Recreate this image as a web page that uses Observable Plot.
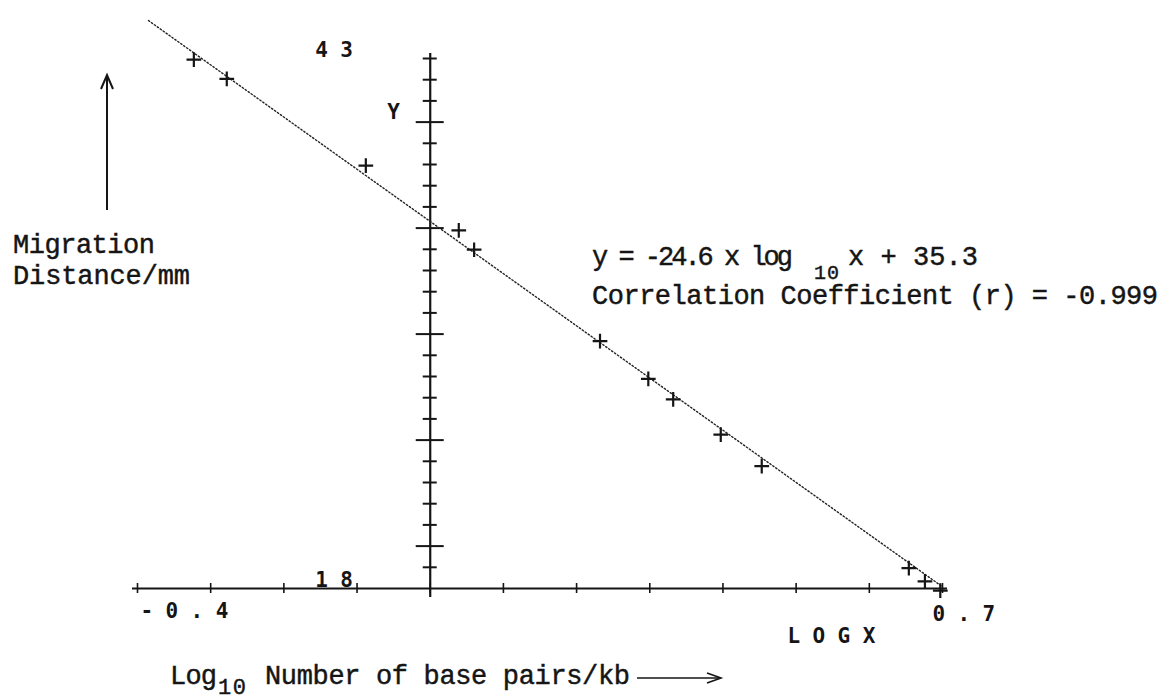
<!DOCTYPE html>
<html>
<head>
<meta charset="utf-8">
<script src="https://cdn.jsdelivr.net/npm/d3@7"></script>
<script src="https://cdn.jsdelivr.net/npm/@observablehq/plot@0.6"></script>
<style>
  html, body { margin: 0; padding: 0; background: #fff; }
  #chart { width: 1171px; height: 700px; }
</style>
</head>
<body>
<div id="chart"></div>
<script>
// ---- data ----
const logKb = [-0.323, -0.278, -0.088, 0.039, 0.060, 0.232, 0.298, 0.332, 0.397, 0.453, 0.654, 0.676, 0.697];
const migrationMm = [42.95, 42.04, 37.95, 34.89, 33.98, 29.67, 27.89, 26.92, 25.26, 23.77, 18.96, 18.34, 17.90];

// regression line end points (y = -24.6 log10 x + 35.3)
const fitLogKb = [-0.385, 0.7];
const fitMm = [44.79, 18.08];

// axis ticks
const xTicks = [-0.4, -0.3, -0.2, -0.1, 0, 0.1, 0.2, 0.3, 0.4, 0.5, 0.6, 0.7];
const yMinorTicks = [19, 21, 22, 23, 24, 26, 27, 28, 29, 31, 32, 33, 34, 36, 37, 38, 39, 41, 42, 43];
const yMajorTicks = [20, 25, 30, 35, 40];

// tick labels
const yLabelValues = [43, 18];
const yLabelTexts = ["43", "18"];
const xLabelLeftValue = [-0.4];
const xLabelLeftText = ["-0.4"];
const xLabelRightValue = [0.7];
const xLabelRightText = ["0.7"];

const points = logKb.map((x, i) => ({x, y: migrationMm[i]}));
const fit = fitLogKb.map((x, i) => ({x, y: fitMm[i]}));
const ink = "#151515";
const dotFont = "DejaVu Sans Mono";

const chart = Plot.plot({
  width: 1171,
  height: 700,
  margin: 0,
  x: {domain: [-0.4, 0.7], range: [137, 942], axis: null},
  y: {domain: [18, 43], range: [588, 58], axis: null},
  marks: [
    // axes
    Plot.ruleY([18], {x1: -0.4, x2: 0.7, insetLeft: -5, insetRight: -5, stroke: ink, strokeWidth: 2}),
    Plot.ruleX([0], {y1: 43, y2: 18, insetTop: -5, insetBottom: -9, stroke: ink, strokeWidth: 2.2}),
    Plot.ruleX(xTicks, {x: d => d, y1: 18, y2: 18, insetTop: -5, insetBottom: -5, stroke: ink, strokeWidth: 1.6}),
    Plot.ruleY(yMinorTicks, {y: d => d, x1: 0, x2: 0, insetLeft: -7, insetRight: -7, stroke: ink, strokeWidth: 2}),
    Plot.ruleY(yMajorTicks, {y: d => d, x1: 0, x2: 0, insetLeft: -14, insetRight: -14, stroke: ink, strokeWidth: 2}),
    // fitted line
    Plot.line(fit, {x: "x", y: "y", stroke: "#222", strokeWidth: 1.4, strokeDasharray: "1.4,2.2"}),
    // data points
    Plot.dot(points, {x: "x", y: "y", symbol: "plus", r: 4.8, stroke: ink, strokeWidth: 2.2}),
    // tick labels
    Plot.text(yLabelTexts, {x: 0, y: (d, i) => yLabelValues[i], text: d => d, textAnchor: "start", lineAnchor: "bottom", dx: -115, dy: -2, fontFamily: dotFont, fontWeight: "bold", fontSize: 21, fill: ink}),
    Plot.text(xLabelLeftText, {x: (d, i) => xLabelLeftValue[i], y: 18, text: d => d, textAnchor: "start", lineAnchor: "bottom", dx: 3, dy: 29, fontFamily: dotFont, fontWeight: "bold", fontSize: 21, fill: ink}),
    Plot.text(xLabelRightText, {x: (d, i) => xLabelRightValue[i], y: 18, text: d => d, textAnchor: "start", lineAnchor: "bottom", dx: -10, dy: 32, fontFamily: dotFont, fontWeight: "bold", fontSize: 21, fill: ink}),
    // axis names
    Plot.text(["LOGX"], {x: 0.7, y: 18, text: d => d, textAnchor: "start", lineAnchor: "bottom", dx: -155, dy: 54, fontFamily: dotFont, fontWeight: "bold", fontSize: 21, fill: ink}),
    Plot.text(["Y"], {x: 0, y: 43, text: d => d, textAnchor: "start", lineAnchor: "bottom", dx: -43, dy: 60, fontFamily: dotFont, fontWeight: "bold", fontSize: 21, fill: ink})
  ]
});
document.getElementById("chart").appendChild(chart);

const svg = d3.select(chart);
svg.selectAll("text").attr("letter-spacing", 12.4);

// ---- typed annotations ----
const typeFont = "Liberation Mono, Courier New, monospace";
function typedText() {
  return svg.append("text")
    .attr("text-anchor", "start")
    .attr("font-family", typeFont).attr("font-size", 27)
    .attr("fill", ink).attr("stroke", ink).attr("stroke-width", 0.45);
}
function typed(x, y, str, len) {
  return typedText().attr("x", x).attr("y", y)
    .attr("textLength", len).attr("lengthAdjust", "spacing")
    .text(str);
}
typed(13, 253, "Migration", 142);
typed(13, 284, "Distance/mm", 177);

// equation (one text element with tspans)
const eq = typedText();
eq.append("tspan").attr("x", 592).attr("y", 265).attr("textLength", 201).attr("lengthAdjust", "spacing").text("y = -24.6 x log");
eq.append("tspan").attr("x", 814).attr("y", 279).attr("font-size", 20).attr("textLength", 25).attr("lengthAdjust", "spacing").text("10");
eq.append("tspan").attr("x", 848).attr("y", 265).attr("textLength", 130).attr("lengthAdjust", "spacing").text("x + 35.3");
typed(592, 304, "Correlation Coefficient (r) = -0.999", 566);

// x-axis caption
const cap = typedText();
cap.append("tspan").attr("x", 170).attr("y", 684).attr("textLength", 47).attr("lengthAdjust", "spacing").text("Log");
cap.append("tspan").attr("x", 218).attr("y", 694).attr("font-size", 22).attr("textLength", 28).attr("lengthAdjust", "spacing").text("10");
cap.append("tspan").attr("x", 265).attr("y", 684).attr("textLength", 365).attr("lengthAdjust", "spacing").text("Number of base pairs/kb");

// arrows
svg.append("line").attr("x1", 107).attr("y1", 210).attr("x2", 107).attr("y2", 76).attr("stroke", ink).attr("stroke-width", 2);
svg.append("path").attr("d", "M101,89 L107,75 L113,89").attr("fill", "none").attr("stroke", ink).attr("stroke-width", 2);
svg.append("line").attr("x1", 637).attr("y1", 678).attr("x2", 719).attr("y2", 678).attr("stroke", ink).attr("stroke-width", 1.6);
svg.append("path").attr("d", "M707,673 L721,678 L707,683").attr("fill", "none").attr("stroke", ink).attr("stroke-width", 1.6);
</script>
</body>
</html>
